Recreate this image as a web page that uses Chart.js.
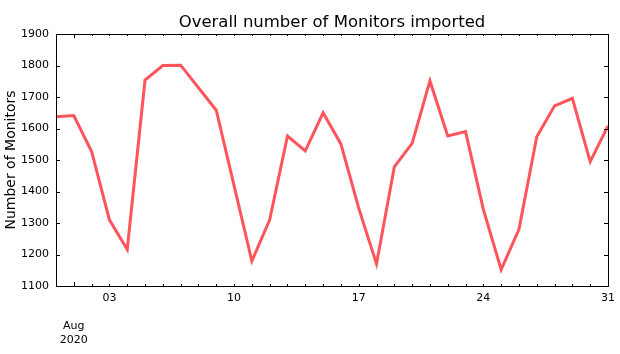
<!DOCTYPE html>
<html>
<head>
<meta charset="utf-8">
<script src="https://cdn.jsdelivr.net/npm/chart.js@4/dist/chart.umd.min.js"></script>
<style>
  html, body { margin: 0; padding: 0; background: #fff; }
  #wrap { width: 620px; height: 354px; }
</style>
</head>
<body>
<div id="wrap"><canvas id="myChart" width="620" height="354"></canvas></div>
<script>
// daily counts, Aug 8 and Aug 10 have no value
const dates = ['2020-07-31', '2020-08-01', '2020-08-02', '2020-08-03', '2020-08-04', '2020-08-05',
  '2020-08-06', '2020-08-07', '2020-08-09', '2020-08-11', '2020-08-12', '2020-08-13',
  '2020-08-14', '2020-08-15', '2020-08-16', '2020-08-17', '2020-08-18', '2020-08-19',
  '2020-08-20', '2020-08-21', '2020-08-22', '2020-08-23', '2020-08-24', '2020-08-25',
  '2020-08-26', '2020-08-27', '2020-08-28', '2020-08-29', '2020-08-30', '2020-08-31'];
const monitors = [1637, 1641, 1527, 1310, 1216, 1754,
  1800, 1801, 1658, 1179, 1310, 1576,
  1529, 1650, 1551, 1347, 1170, 1478,
  1553, 1751, 1576, 1590, 1343, 1152,
  1280, 1574, 1672, 1696, 1495, 1608];

const tickDays = [3, 10, 17, 24, 31];
const tickLabels = ['03', '10', '17', '24', '31'];
const monthDay = 1;
const monthLabel = ['Aug', '2020'];
const yTicks = [1100, 1200, 1300, 1400, 1500, 1600, 1700, 1800, 1900];
const chartTitle = 'Overall number of Monitors imported';

// day offset from Jul 31
const start = Date.UTC(2020, 6, 31);
function dayOf(s) {
  const [y, m, d] = s.split('-').map(Number);
  return Math.round((Date.UTC(y, m - 1, d) - start) / 86400000);
}
const points = dates.map((d, i) => ({ x: dayOf(d), y: monitors[i] }));

// classic inward ticks on all four sides, the frame, and the title centred on the axes
const frameTicks = {
  id: 'frameTicks',
  afterDraw(chart) {
    const ctx = chart.ctx;
    const a = chart.chartArea;
    const xs = chart.scales.x;
    const ys = chart.scales.y;
    ctx.save();
    ctx.strokeStyle = '#000';
    ctx.lineWidth = 1;
    ctx.beginPath();
    for (let d = 0; d <= 31; d++) {
      const px = Math.round(xs.getPixelForValue(d)) + 0.5;
      const len = d === monthDay ? 4 : 2;
      ctx.moveTo(px, a.bottom); ctx.lineTo(px, a.bottom - len);
      ctx.moveTo(px, a.top); ctx.lineTo(px, a.top + len);
    }
    yTicks.forEach(v => {
      const py = Math.round(ys.getPixelForValue(v)) + 0.5;
      ctx.moveTo(a.left, py); ctx.lineTo(a.left + 4, py);
      ctx.moveTo(a.right, py); ctx.lineTo(a.right - 4, py);
    });
    ctx.stroke();
    ctx.strokeRect(Math.round(a.left) + 0.5, Math.round(a.top) + 0.5,
      Math.round(a.right - a.left), Math.round(a.bottom - a.top));

    ctx.fillStyle = '#000';
    ctx.font = '16.5px "DejaVu Sans"';
    ctx.textAlign = 'center';
    ctx.textBaseline = 'middle';
    ctx.fillText(chartTitle, (a.left + a.right) / 2, 23);
    ctx.restore();
  }
};

const ctx = document.getElementById('myChart').getContext('2d');
new Chart(ctx, {
  type: 'line',
  data: {
    datasets: [{
      label: 'Monitors',
      data: points,
      borderColor: 'rgb(255, 85, 90)',
      borderWidth: 3,
      pointRadius: 0,
      tension: 0,
      fill: false
    }]
  },
  options: {
    responsive: false,
    animation: false,
    layout: { padding: { left: 0, right: 12, top: 34, bottom: 0 } },
    plugins: {
      legend: { display: false },
      tooltip: { enabled: false },
      title: { display: false }
    },
    scales: {
      x: {
        type: 'linear',
        min: 0,
        max: 31,
        grid: { display: false, drawTicks: false },
        border: { display: false },
        afterFit(scale) { scale.height = 68; },
        afterBuildTicks(scale) {
          scale.ticks = [monthDay].concat(tickDays).map(v => ({ value: v }));
        },
        ticks: {
          autoSkip: false,
          maxRotation: 0,
          padding: 5,
          color: '#000',
          font: { family: 'DejaVu Sans', size: 11, lineHeight: 1.27 },
          callback(v) {
            if (v === monthDay) return ['', ''].concat(monthLabel);
            const i = tickDays.indexOf(v);
            return i >= 0 ? tickLabels[i] : '';
          }
        }
      },
      y: {
        min: 1100,
        max: 1900,
        grid: { display: false, drawTicks: false },
        border: { display: false },
        afterFit(scale) { scale.width = 56; },
        afterBuildTicks(scale) {
          scale.ticks = yTicks.map(v => ({ value: v }));
        },
        ticks: {
          padding: 7,
          color: '#000',
          font: { family: 'DejaVu Sans', size: 11 },
          callback(v) { return String(v); }
        },
        title: {
          display: true,
          text: 'Number of Monitors',
          color: '#000',
          font: { family: 'DejaVu Sans', size: 14 },
          padding: { top: 3, bottom: 0 }
        }
      }
    }
  },
  plugins: [frameTicks]
});
</script>
</body>
</html>
